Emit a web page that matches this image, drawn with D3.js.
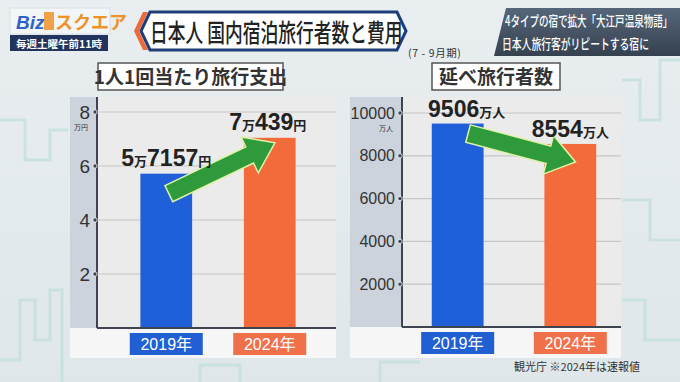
<!DOCTYPE html>
<html><head><meta charset="utf-8">
<script src="https://cdn.jsdelivr.net/npm/d3@7"></script>
<style>
html,body{margin:0;padding:0;background:#e6ecee;}
svg{display:block;}
text{font-family:"Liberation Sans","Noto Sans CJK JP",sans-serif;}
</style></head>
<body>
<svg id="c" width="680" height="382"></svg>
<script>
// ---- data ----
const years = ["2019年", "2024年"];
const spending = [5.7157, 7.0439];          // 万円
const travelers = [9506, 8554];             // 万人
const spendTicks = [2, 4, 6, 8];
const travelerTicks = [2000, 4000, 6000, 8000, 10000];
const barColors = ["#1f5fd8", "#f36b3b"];
const boxColors = ["#2160d2", "#f0704a"];

const svg = d3.select("#c");
const JP = "'Noto Sans CJK JP',sans-serif";

// ---- background ----
const bg = svg.append("defs").append("linearGradient").attr("id","bgG").attr("x1",0).attr("x2",0).attr("y1",0).attr("y2",1);
bg.append("stop").attr("offset",0).attr("stop-color","#e9eef0");
bg.append("stop").attr("offset",1).attr("stop-color","#dfe7ea");
svg.append("rect").attr("width",680).attr("height",382).attr("fill","url(#bgG)");
const deco = svg.append("g").attr("fill","none").attr("stroke","#bfe0dc").attr("stroke-width",3).attr("opacity",0.7);
deco.append("path").attr("d","M0,360 L20,360 L20,300 L35,300 L35,340 L50,340 L50,290 L62,290 L62,382");
deco.append("path").attr("d","M622,80 L640,80 L640,120 L660,120 L660,60 L680,60");
deco.append("path").attr("d","M622,200 L650,200 L650,240 L680,240");
deco.append("path").attr("d","M0,120 L25,120 L25,160 L50,160 L50,130 L68,130");
deco.append("path").attr("d","M622,300 L645,300 L645,340 L680,340");
deco.append("path").attr("d","M200,382 L200,365 L240,365 L240,382 M380,382 L380,362 L420,362");

// ---- header: logo ----
svg.append("rect").attr("x",10).attr("y",8).attr("width",100).attr("height",26).attr("fill","#f3f6f8").attr("stroke","#d7dde2");
svg.append("text").attr("x",16).attr("y",29).attr("font-size",19).attr("font-weight","bold").attr("font-style","italic").attr("fill","#2b63c8").text("Biz");
svg.append("rect").attr("x",44).attr("y",12).attr("width",10).attr("height",18).attr("fill","#f0922a").attr("opacity",0.85);
svg.append("text").attr("x",55).attr("y",29).attr("font-size",18).attr("font-weight","bold").attr("fill","#f0922a").style("font-family",JP).text("スクエア");
svg.append("rect").attr("x",10).attr("y",35).attr("width",98).attr("height",16).attr("fill","#22345e");
svg.append("text").attr("x",59).attr("y",47.5).attr("text-anchor","middle").attr("font-size",10.5).attr("font-weight","bold").attr("fill","#fff").style("font-family",JP).text("毎週土曜午前11時");

// ---- header: title ----
svg.append("path").attr("d","M134,31 L143,12 L148,12 L139,31 L148,50 L143,50 Z").attr("fill","#ee6a3a");
svg.append("path").attr("d","M141,31 L150,12 L397,12 L406,31 L397,50 L150,50 Z").attr("fill","#fff").attr("stroke","#1f3d78").attr("stroke-width",3);
svg.append("g").attr("transform","translate(150,42) scale(0.71,1)")
  .append("text").attr("x",0).attr("y",0).attr("font-size",25).attr("font-weight",500).attr("fill","#222").style("font-family",JP)
  .text("日本人 国内宿泊旅行者数と費用");
svg.append("text").attr("x",408).attr("y",57).attr("font-size",10.5).attr("letter-spacing",0.6).attr("fill","#333").style("font-family",JP).text("(7 - 9月期)");

// ---- header: right caption ----
const capG = svg.append("defs").append("linearGradient").attr("id","capG").attr("x1",0).attr("x2",0).attr("y1",0).attr("y2",1);
capG.append("stop").attr("offset",0).attr("stop-color","#56667a");
capG.append("stop").attr("offset",1).attr("stop-color","#35414f");
svg.append("path").attr("d","M506,8 L680,8 L680,56 L494,56 Z").attr("fill","url(#capG)");
svg.append("g").attr("transform","translate(505,26) scale(0.68,1)")
  .append("text").attr("font-size",14).attr("font-weight",500).attr("fill","#fff").style("font-family",JP).text("4タイプの宿で拡大「大江戸温泉物語」");
svg.append("g").attr("transform","translate(502,49) scale(0.7,1)")
  .append("text").attr("font-size",14).attr("font-weight",500).attr("fill","#fff").style("font-family",JP).text("日本人旅行客がリピートする宿に");

// ---- panel builder ----
function panel(opt){
  const {left, axisX, right, top, base, bottom, yTop, domainMax, ticks, values, title, titleX, titleW, unit, fmt, tickFs, arrow} = opt;
  const g = svg.append("g");
  g.append("rect").attr("x",left).attr("y",top).attr("width",axisX-left).attr("height",base-top).attr("fill","#ccd3dc");
  g.append("rect").attr("x",axisX).attr("y",top).attr("width",right-axisX).attr("height",base-top).attr("fill","#ebebeb");
  g.append("rect").attr("x",left).attr("y",base).attr("width",right-left).attr("height",bottom-base).attr("fill","#f7f7f7");

  const y = d3.scaleLinear().domain([0,domainMax]).range([base, yTop]);
  const x = d3.scaleBand().domain(years).range(opt.xRange).paddingInner(opt.pi).paddingOuter(opt.po);

  g.append("g").selectAll("line").data(ticks).join("line")
    .attr("x1",axisX).attr("x2",right).attr("y1",d=>y(d)).attr("y2",d=>y(d))
    .attr("stroke","#c6c6c6").attr("stroke-width",1.2);

  g.append("g").selectAll("rect").data(values).join("rect")
    .attr("x",(d,i)=>x(years[i])).attr("width",x.bandwidth())
    .attr("y",d=>y(d)).attr("height",d=>base-y(d))
    .attr("fill",(d,i)=>barColors[i]);

  const ax = g.append("g").attr("transform",`translate(${axisX},0)`)
    .call(d3.axisLeft(y).tickValues(ticks).tickSize(0).tickPadding(7).tickFormat(d3.format("d")));
  ax.select(".domain").remove();
  ax.selectAll("text").attr("font-size",tickFs).attr("fill","#333").style("font-family","'Liberation Sans',sans-serif");
  g.append("line").attr("x1",axisX).attr("x2",axisX).attr("y1",top).attr("y2",base).attr("stroke","#3f4550").attr("stroke-width",2);
  g.append("g").selectAll("circle").data(ticks).join("circle")
    .attr("cx",axisX-2).attr("cy",d=>y(d)).attr("r",2.2).attr("fill","#3f4550").attr("stroke","#fff").attr("stroke-width",0.8);
  g.append("text").attr("x",axisX-9).attr("y",y(domainMax)+18).attr("text-anchor","end")
    .attr("font-size",7).attr("fill","#333").style("font-family",JP).text(unit);
  g.append("line").attr("x1",axisX).attr("x2",right).attr("y1",base).attr("y2",base).attr("stroke","#3f4550").attr("stroke-width",2);

  const cat = g.append("g").selectAll("g").data(years).join("g")
    .attr("transform",d=>`translate(${x(d)+x.bandwidth()/2},${base+16})`);
  cat.append("rect").attr("x",-36.5).attr("y",-11).attr("width",73).attr("height",22).attr("fill",(d,i)=>boxColors[i]);
  cat.append("text").attr("y",6).attr("text-anchor","middle").attr("font-size",16).attr("fill","#fff").text(d=>d);

  g.append("rect").attr("x",titleX).attr("y",63).attr("width",titleW).attr("height",27).attr("fill","#fff").attr("stroke","#555").attr("stroke-width",1.5);
  g.append("text").attr("x",titleX+titleW/2).attr("y",84).attr("text-anchor","middle").attr("font-size",19).attr("font-weight","bold")
    .attr("fill","#333").style("font-family",JP).text(title);

  const [t0, t1] = arrow(x, y);
  const dx = t1[0]-t0[0], dy = t1[1]-t0[1];
  const L = Math.hypot(dx,dy), ang = Math.atan2(dy,dx)*180/Math.PI;
  const sw = 9, hw = 20, hl = 28;
  g.append("path").attr("transform",`translate(${t0[0]},${t0[1]}) rotate(${ang})`)
    .attr("d",`M0,${-sw} L${L-hl},${-sw} L${L-hl},${-hw} L${L},0 L${L-hl},${hw} L${L-hl},${sw} L0,${sw} Z`)
    .attr("fill","#2e9a3c").attr("stroke","#dff3a8").attr("stroke-width",1.5).attr("stroke-linejoin","miter");

  const lab = g.append("g").selectAll("text").data(values).join("text")
    .attr("x",(d,i)=>x(years[i])+x.bandwidth()/2 + (opt.labDx? opt.labDx[i]:0))
    .attr("y",d=>y(d)-opt.labGap).attr("text-anchor","middle").attr("fill","#222").attr("font-weight","bold");
  lab.each(function(d){
    const parts = fmt(d);
    const t = d3.select(this);
    parts.forEach(p=>{
      t.append("tspan").attr("font-size",p.big?23:13).style("font-family",p.big?"'Liberation Sans',sans-serif":JP).text(p.s);
    });
  });
  return {x,y};
}

panel({
  left:70, axisX:97, right:336, top:97, base:328, bottom:358, yTop:112, domainMax:8,
  ticks:spendTicks, values:spending, title:"1人1回当たり旅行支出", titleX:98, titleW:185, unit:"万円", tickFs:19,
  xRange:[99,337], pi:0.5, po:0.4, labGap:8, labDx:[0,-2],
  fmt:v=>{ const man=Math.floor(v); const rest=Math.round((v-man)*10000);
    return [{s:String(man),big:true},{s:"万",big:false},{s:String(rest),big:true},{s:"円",big:false}]; },
  arrow:(x,y)=>[[x(years[0])+x.bandwidth()*0.55, y(spending[0])+20],[x(years[1])+x.bandwidth()*0.6, y(spending[1])+5]]
});

panel({
  left:350, axisX:402, right:621, top:97, base:327, bottom:358, yTop:113, domainMax:10000,
  ticks:travelerTicks, values:travelers, title:"延べ旅行者数", titleX:432, titleW:128, unit:"万人", tickFs:16,
  xRange:[407,621], pi:0.54, po:0.22, labGap:7, labDx:[9,0],
  fmt:v=>[{s:String(v),big:true},{s:"万人",big:false}],
  arrow:(x,y)=>[[x(years[0])+x.bandwidth()*0.7, y(travelers[0])+10],[x(years[1])+x.bandwidth()*0.6, y(travelers[1])+18]]
});

svg.append("text").attr("x",640).attr("y",371).attr("text-anchor","end").attr("font-size",11).attr("fill","#333")
  .style("font-family",JP).text("観光庁 ※2024年は速報値");
</script>
</body></html>
